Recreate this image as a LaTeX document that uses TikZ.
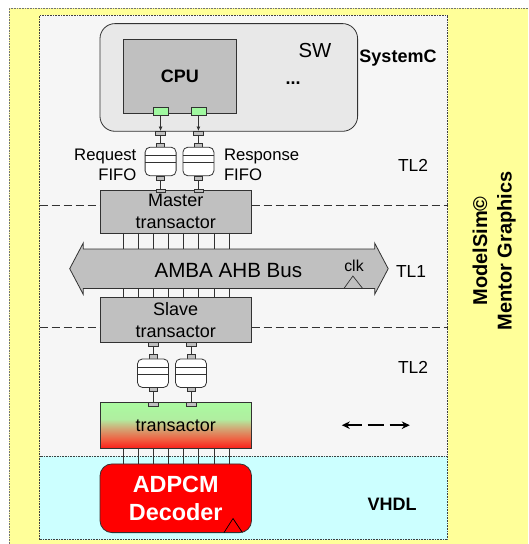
\documentclass[tikz,border=0pt]{standalone}
\usepackage{fontspec}
\setmainfont{Liberation Sans}
\usetikzlibrary{arrows.meta,calc}

\definecolor{sideyellow}{RGB}{255,255,153}
\definecolor{tlmgray}{RGB}{246,246,246}
\definecolor{rtlcyan}{RGB}{204,255,255}
\definecolor{swgray}{RGB}{232,232,232}
\definecolor{boxgray}{RGB}{192,192,192}
\definecolor{portgreen}{RGB}{160,248,160}
\definecolor{edge}{RGB}{50,50,50}

% green-to-red fill of the RTL-side transactor (node occupies 25bp..75bp)
\pgfdeclareverticalshading{transshade}{100bp}{
  color(0bp)=(rgb,255:red,250;green,30;blue,25);
  color(25bp)=(rgb,255:red,250;green,30;blue,25);
  color(35bp)=(rgb,255:red,240;green,95;blue,65);
  color(47bp)=(rgb,255:red,210;green,168;blue,118);
  color(57bp)=(rgb,255:red,176;green,238;blue,160);
  color(75bp)=(rgb,255:red,170;green,250;blue,160);
  color(100bp)=(rgb,255:red,170;green,250;blue,160)}

\tikzset{
  every node/.style={inner sep=0pt, outer sep=0pt},
  panel/.style={draw=black!75, densely dotted, line width=0.6pt},
  block/.style={draw=edge, line width=0.8pt, fill=boxgray, align=center,
    minimum width=151.5pt, font=\fontsize{18}{21.5}\selectfont},
  gport/.style={draw=edge, line width=0.6pt, fill=portgreen,
    minimum width=15.2pt, minimum height=7.8pt},
  outport/.style={draw=edge, line width=0.6pt, fill=boxgray,
    minimum width=10pt, minimum height=3.8pt},
  inport/.style={draw=edge, line width=0.6pt, fill=boxgray,
    minimum width=8pt, minimum height=4.2pt},
  fifo/.style={draw=edge, line width=0.8pt, fill=white, rounded corners=5pt,
    minimum width=31pt, minimum height=28.6pt},
  wire/.style={draw=edge, line width=0.7pt},
  cut/.style={draw=black!80, line width=0.7pt, dash pattern=on 8pt off 4pt},
  label/.style={font=\fontsize{17.4}{21}\selectfont, anchor=base},
  boldlabel/.style={font=\bfseries\fontsize{18}{21}\selectfont, anchor=base},
}

\begin{document}
\begin{tikzpicture}[x=1pt,y=-1pt]
\useasboundingbox (0,0) rectangle (528,544);
\clip (0,0) rectangle (528,544);
\fill[white] (0,0) rectangle (528,544);

% tool frame
\fill[sideyellow] (9,8) rectangle (528,544);
\draw[black!55, densely dotted, line width=0.6pt] (9,544) -- (9,8) -- (528,8);

% transaction level and RTL panels
\node[panel, fill=tlmgray, minimum width=408pt, minimum height=441pt] (tlm) at (243.7,235.7) {};
\node[panel, fill=rtlcyan, minimum width=408pt, minimum height=83.3pt] (rtl) at (243.7,497.85) {};

% software part
\node[draw=edge, line width=0.8pt, fill=swgray, rounded corners=15pt,
  minimum width=257.6pt, minimum height=107.7pt] (sw) at (228.8,77.45) {};
\node[block, minimum width=113.8pt, minimum height=74.1pt,
  font=\bfseries\fontsize{18}{21}\selectfont] (cpu) at (179.8,76.45) {CPU};
\node[font=\fontsize{20.3}{24}\selectfont, anchor=base] (swlabel) at (315,57.2) {SW};
\node[boldlabel] (dots) at (293,84) {...};
\node[boldlabel] (systemc) at (398,62.3) {SystemC};

% CPU ports and FIFO chains
\node[gport] (gp1) at (160.6,111.6) {};
\node[gport] (gp2) at (198.4,111.6) {};
\node[outport] (op1) at (160.6,132.9) {};
\node[outport] (op2) at (198.4,132.9) {};
\node[inport] (fi1) at (160.6,145.1) {};
\node[inport] (fi2) at (198.4,145.1) {};
\node[fifo] (f1) at (160.6,161.5) {};
\node[fifo] (f2) at (198.4,161.5) {};
\node[inport] (fo1) at (160.6,177.9) {};
\node[inport] (fo2) at (198.4,177.9) {};

\draw[wire, -{Latex[length=4.5pt,width=4pt]}] (gp1.south) -- (op1.north);
\draw[wire, -{Latex[length=4.5pt,width=4pt]}] (gp2.south) -- (op2.north);
\draw[wire] (op1.south) -- (fi1.north);
\draw[wire] (op2.south) -- (fi2.north);

\node[font=\fontsize{16.7}{19.8}\selectfont, align=right, anchor=east] (reqlabel) at (136.4,164.9) {Request\\FIFO};
\node[font=\fontsize{16.7}{19.8}\selectfont, align=left, anchor=west] (resplabel) at (224,164.9) {Response\\FIFO};

% master transactor
\node[block, minimum height=42.8pt] (master) at (175.75,211.5) {Master\\transactor};
\node[outport, minimum width=9pt] (mi1) at (160.6,190.7) {};
\node[outport, minimum width=9pt] (mi2) at (198.4,190.7) {};
\draw[wire] (fo1.south) -- (mi1.north);
\draw[wire] (fo2.south) -- (mi2.north);

% bus
\node[minimum width=291.5pt, minimum height=39.4pt] (bus) at (228.95,268.7) {};
\draw[draw=edge, line width=0.8pt, fill=boxgray]
  (bus.north west) -- ++(0,-5.9) -- ($(bus.west)+(-13.5,0)$) -- ($(bus.south west)+(0,5.9)$)
  -- (bus.south west) -- (bus.south east) -- ++(0,5.9) -- ($(bus.east)+(13.5,0)$)
  -- ($(bus.north east)+(0,-5.9)$) -- (bus.north east) -- cycle;
\node[font=\fontsize{20.6}{24}\selectfont, anchor=base] (buslabel) at (228.4,277) {AMBA AHB Bus};
\node[font=\fontsize{15.8}{19}\selectfont, anchor=base] (clklabel) at (354,271.6) {clk};
\draw[wire] ($(bus.south east)+(-30.7,0)$) -- ++(8.9,-12.4) -- ++(9.7,12.4);

% slave transactor
\node[block, minimum height=45.4pt] (slave) at (175.75,319.9) {Slave\\transactor};

% RTL side transactor and decoder
\node[draw=edge, line width=0.8pt, shading=transshade,
  minimum width=151.5pt, minimum height=45.8pt, font=\fontsize{18}{21.5}\selectfont]
  (trans) at (175.75,425.5) {transactor};
\node[draw=edge, line width=0.8pt, fill=red, rounded corners=12pt,
  minimum width=151.5pt, minimum height=68.7pt, text=white, align=center,
  font=\bfseries\fontsize{23.4}{28}\selectfont] (adpcm) at (175.75,498.25) {ADPCM\\Decoder};
\draw[line width=0.7pt, black] ($(adpcm.south east)+(-27.5,0)$) -- ++(9,-14.1) -- ++(9.4,14.1);

% signal wires
\foreach \i in {0,...,7} {
  \draw[wire] ($(master.south west)+(23+15.15*\i,0)$) coordinate (mw\i) -- (mw\i |- bus.north);
  \draw[wire] ($(slave.north west)+(23+15.15*\i,0)$) coordinate (sw\i) -- (sw\i |- bus.south);
  \draw[wire] ($(trans.south west)+(23+15.15*\i,0)$) coordinate (tw\i) -- (tw\i |- adpcm.north);
}

% lower FIFO chain
\node[outport] (so1) at (153,343.9) {};
\node[outport] (so2) at (191,343.9) {};
\node[inport] (fi3) at (153,356.7) {};
\node[inport] (fi4) at (191,356.7) {};
\node[fifo] (f3) at (153,373.2) {};
\node[fifo] (f4) at (191,373.2) {};
\node[inport] (fo3) at (153,389.6) {};
\node[inport] (fo4) at (191,389.6) {};
\node[outport] (ti1) at (153,404.5) {};
\node[outport] (ti2) at (191,404.5) {};
\draw[wire] (so1.south) -- (fi3.north);
\draw[wire] (so2.south) -- (fi4.north);
\draw[wire] (fo3.south) -- (ti1.north);
\draw[wire] (fo4.south) -- (ti2.north);

% FIFO slots
\foreach \f in {f1,f2,f3,f4} {
  \draw[draw=edge, line width=0.8pt] ($(\f.north west)!0.3!(\f.south west)$) -- ($(\f.north east)!0.3!(\f.south east)$);
  \draw[draw=edge, line width=0.8pt] ($(\f.north west)!0.53!(\f.south west)$) -- ($(\f.north east)!0.53!(\f.south east)$);
}

% level boundaries
\coordinate (cut1) at (0,205.3);
\coordinate (cut2) at (0,327.5);
\draw[cut] (tlm.west |- cut1) -- (master.west |- cut1);
\draw[cut] (master.east |- cut1) -- (tlm.east |- cut1);
\draw[cut] (tlm.west |- cut2) -- (slave.west |- cut2);
\draw[cut] (slave.east |- cut2) -- (tlm.east |- cut2);

% level labels
\node[label] (tl2a) at (413,171) {TL2};
\node[label] (tl1) at (411,277) {TL1};
\node[label] (tl2b) at (413,373.7) {TL2};
\node[boldlabel] (vhdl) at (392,510) {VHDL};

\coordinate (la) at (341.8,425.2);
\coordinate (ra) at (409.8,425.2);
\draw[black, line width=1.9pt, {Stealth[length=8pt,width=7.5pt]}-{Stealth[length=8pt,width=7.5pt]},
  dash pattern=on 15pt off 6pt on 16pt off 6pt] (la) -- (ra);

% simulator
\node[rotate=90, font=\bfseries\fontsize{20}{24.5}\selectfont, align=center] (tool) at (494.3,251) {ModelSim©\\Mentor Graphics};
\end{tikzpicture}
\end{document}
